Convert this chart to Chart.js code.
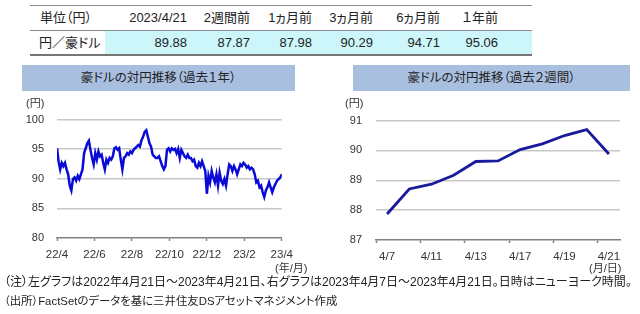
<!DOCTYPE html>
<html>
<head>
<meta charset="utf-8">
<script src="https://cdn.jsdelivr.net/npm/chart.js@4.4.0/dist/chart.umd.min.js"></script>
<style>
  body { margin: 0; width: 640px; height: 314px; position: relative; overflow: hidden; background: #fff;
         font-family: "Liberation Sans", "Noto Sans CJK JP", sans-serif; color: #222; font-feature-settings: "palt"; }
  .line { position: absolute; background: #8a8a8a; }
  .cell { position: absolute; font-size: 13px; line-height: 20px; text-align: right; white-space: nowrap; }
  .title { position: absolute; background: #a9bfe0; height: 26px; line-height: 26px; text-align: center; font-size: 12.5px; color: #222; }
  .unit { position: absolute; font-size: 11px; line-height: 12px; color: #333; white-space: nowrap; }
  .note { position: absolute; left: 4px; line-height: 14px; color: #222; white-space: nowrap; }
</style>
</head>
<body>
<div class="line" style="left:30px;top:5px;width:502px;height:1px"></div>
<div class="line" style="left:30px;top:30px;width:502px;height:1px"></div>
<div style="position:absolute;left:105px;top:31px;width:427px;height:23px;background:#ccf6fa"></div>
<div class="line" style="left:30px;top:54px;width:502px;height:2px;background:#767676"></div>
<div class="cell" style="left:40px;top:8px;text-align:left">単位（円）</div>
<div class="cell" style="left:39px;top:33px;text-align:left">円／豪ドル</div>
<div id="tbl"></div>

<div class="title" style="left:22px;top:65px;width:273px">豪ドルの対円推移（過去１年）</div>
<div class="title" style="left:353px;top:65px;width:277px">豪ドルの対円推移（過去２週間）</div>

<div style="position:absolute;left:0;top:100px;width:300px;height:180px"><canvas id="left"></canvas></div>
<div style="position:absolute;left:320px;top:100px;width:320px;height:180px"><canvas id="right"></canvas></div>

<div class="unit" style="left:26px;top:97px">(円)</div>
<div class="unit" style="left:345px;top:97px">(円)</div>
<div class="unit" style="left:275px;top:262px">(年/月)</div>
<div class="unit" style="left:589px;top:262px">(月/日)</div>

<div class="note" style="top:275px;font-size:12px">（注）左グラフは2022年4月21日～2023年4月21日、右グラフは2023年4月7日～2023年4月21日。日時はニューヨーク時間。</div>
<div class="note" style="top:294px;font-size:11.4px">（出所）FactSetのデータを基に三井住友DSアセットマネジメント作成</div>

<script>
// table
const tableHeads = ['2023/4/21', '2週間前', '1ヵ月前', '3ヵ月前', '6ヵ月前', '１年前'];
const tableValues = [89.88, 87.87, 87.98, 90.29, 94.71, 95.06];

// left chart: AUD/JPY, past year
const leftTicks = ['22/4', '22/6', '22/8', '22/10', '22/12', '23/2', '23/4'];
const leftValues = [
  95.16, 92.97, 91.59, 92.69, 92.14, 92.69, 91.59, 90.77, 88.85, 88.02, 89.95, 90.22, 89.67, 90.49, 89.95, 90.77,
  91.59, 94.34, 95.16, 95.99, 96.43, 94.89, 93.52, 92.42, 94.34, 93.24, 94.62, 93.79, 94.07, 92.69, 91.59, 93.24,
  92.69, 93.52, 93.24, 93.79, 95.16, 95.33, 94.89, 95.16, 93.24, 91.59, 93.52, 93.79, 94.34, 94.07, 94.62, 94.34,
  94.89, 95.16, 95.44, 95.71, 95.44, 96.54, 97.09, 97.91, 98.19, 97.09, 95.99, 95.44, 94.07, 93.79, 93.52, 93.52,
  93.79, 92.97, 92.14, 91.59, 92.14,
  94.89, 95.16, 94.62, 95.16, 94.89, 95.05, 94.34, 95.05, 93.52, 94.89, 94.34, 93.79, 93.52, 94.07, 93.52, 93.52,
  92.97, 93.24, 92.14, 91.87, 92.69, 92.14, 92.97, 92.14, 91.32, 87.47, 90.49, 89.40, 91.32, 90.22, 89.40, 90.77,
  88.85, 91.04, 89.67, 89.12, 89.95, 88.85, 90.77, 92.42, 92.14, 91.32, 92.14, 91.59, 90.77, 91.59, 92.42, 92.14,
  92.69, 92.42, 91.87, 92.14, 91.59, 91.87, 91.59, 90.77, 89.40, 89.67, 88.57, 88.85, 87.75, 86.92, 88.02, 88.57,
  89.40, 88.57, 87.75, 88.57, 89.12, 89.67, 89.95, 90.22, 90.77
];

// right chart: past two weeks
const rightDates = ['4/7', '4/10', '4/11', '4/12', '4/13', '4/14', '4/17', '4/18', '4/19', '4/20', '4/21'];
const rightValues = [87.87, 88.71, 88.87, 89.17, 89.63, 89.65, 90.03, 90.22, 90.50, 90.70, 89.88];

// build table cells
const colRight = [187, 250, 312, 373, 440, 498];
const tbl = document.getElementById('tbl');
tableHeads.forEach((h, i) => {
  const a = document.createElement('div');
  a.className = 'cell';
  a.style.cssText = `right:${640 - colRight[i]}px;top:8px`;
  a.textContent = h;
  tbl.appendChild(a);
  const b = document.createElement('div');
  b.className = 'cell';
  b.style.cssText = `right:${640 - colRight[i]}px;top:33px`;
  b.textContent = tableValues[i].toFixed(2);
  tbl.appendChild(b);
});

Chart.defaults.font.family = "'Liberation Sans', 'Noto Sans CJK JP', sans-serif";
Chart.defaults.color = '#333';

const n = leftValues.length;
new Chart(document.getElementById('left'), {
  type: 'line',
  data: {
    labels: leftValues.map((_, i) => i),
    datasets: [{
      data: leftValues.map((v, i) => ({ x: i, y: v })),
      borderColor: '#0a0ad6',
      borderWidth: 2.5,
      pointRadius: 0,
      tension: 0
    }]
  },
  options: {
    responsive: true,
    maintainAspectRatio: false,
    animation: false,
    layout: { padding: { top: 17, right: 12, left: 0, bottom: 0 } },
    plugins: { legend: { display: false }, tooltip: { enabled: false } },
    scales: {
      x: {
        type: 'linear',
        min: 0,
        max: n - 1,
        afterBuildTicks: sc => { sc.ticks = leftTicks.map((_, i) => ({ value: (n - 1) * i / 6 })); },
        afterFit: sc => { sc.height = 42; },
        ticks: { callback: (v, i) => leftTicks[i], autoSkip: false, maxRotation: 0, padding: 7, font: { size: 11.5 } },
        grid: { drawOnChartArea: false, drawTicks: true, tickLength: 3, tickColor: '#808080', tickWidth: 1.5 },
        border: { display: true, color: '#808080', width: 1.5 }
      },
      y: {
        min: 80,
        max: 100,
        afterFit: sc => { sc.width = 57; },
        ticks: { stepSize: 5, padding: 13, font: { size: 11 } },
        grid: { color: ctx => ctx.tick && ctx.tick.value === 80 ? 'rgba(0,0,0,0)' : '#c8c8c8', lineWidth: 1.5, drawTicks: false },
        border: { display: false }
      }
    }
  }
});

new Chart(document.getElementById('right'), {
  type: 'line',
  data: {
    labels: rightDates,
    datasets: [{
      data: rightValues,
      borderColor: '#1a1a9c',
      borderWidth: 2.8,
      pointRadius: 0,
      tension: 0
    }]
  },
  options: {
    responsive: true,
    maintainAspectRatio: false,
    animation: false,
    layout: { padding: { top: 17, right: 20, left: 0, bottom: 0 } },
    plugins: { legend: { display: false }, tooltip: { enabled: false } },
    scales: {
      x: {
        offset: true,
        afterFit: sc => { sc.height = 40; },
        ticks: { callback: (v, i) => i % 2 === 0 ? rightDates[i] : '', autoSkip: false, maxRotation: 0, padding: 7, font: { size: 11.5 } },
        grid: {
          offset: true, drawOnChartArea: false, drawTicks: true, tickLength: 3, tickWidth: 1.5,
          tickColor: ctx => ctx.index % 2 === 0 ? '#808080' : 'rgba(0,0,0,0)'
        },
        border: { display: true, color: '#808080', width: 1.5 }
      },
      y: {
        min: 87,
        max: 91,
        afterFit: sc => { sc.width = 56; },
        ticks: { stepSize: 1, padding: 14, font: { size: 11 } },
        grid: { color: ctx => ctx.tick && ctx.tick.value === 87 ? 'rgba(0,0,0,0)' : '#c8c8c8', lineWidth: 1.5, drawTicks: false },
        border: { display: false }
      }
    }
  }
});
</script>
</body>
</html>
